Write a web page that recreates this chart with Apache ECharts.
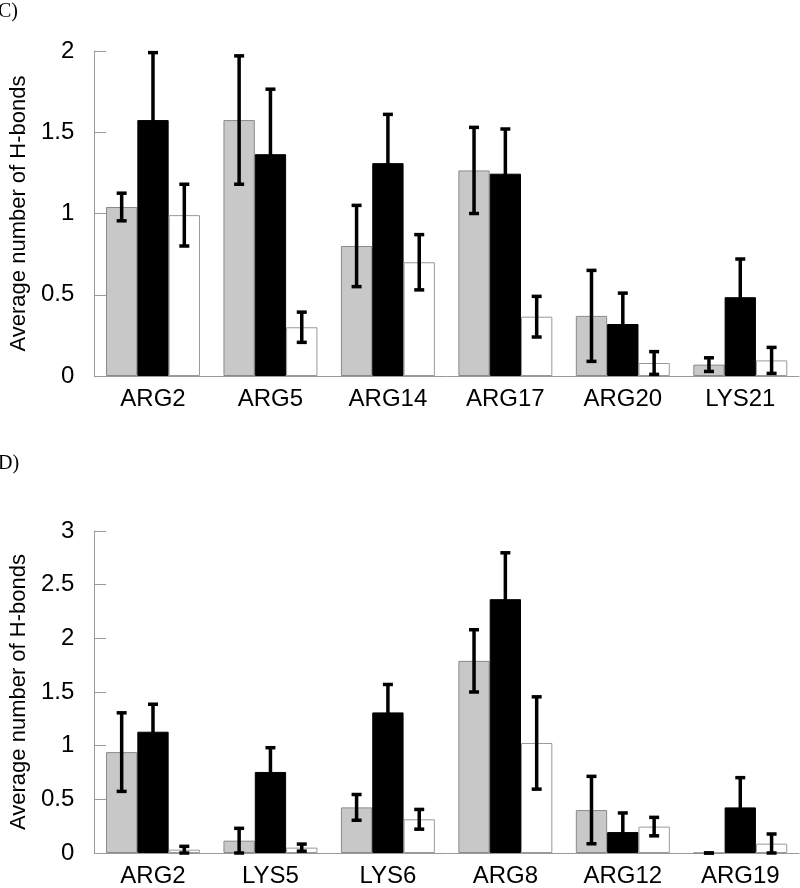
<!DOCTYPE html>
<html>
<head>
<meta charset="utf-8">
<script src="https://cdn.jsdelivr.net/npm/echarts@6/dist/echarts.min.js"></script>
<style>
html,body{margin:0;padding:0;background:#fff;}
#chart{width:800px;height:888px;}
</style>
</head>
<body>
<div id="chart"></div>
<script>
// Panel C
var catsC = ['ARG2','ARG5','ARG14','ARG17','ARG20','LYS21'];
var grayC = [1.04, 1.575, 0.80, 1.265, 0.37, 0.07];
var grayErrC = [0.085, 0.395, 0.25, 0.265, 0.28, 0.042];
var blackC = [1.575, 1.365, 1.31, 1.245, 0.32, 0.485];
var blackErrC = [0.415, 0.40, 0.30, 0.275, 0.19, 0.235];
var whiteC = [0.99, 0.30, 0.70, 0.365, 0.08, 0.096];
var whiteErrC = [0.19, 0.093, 0.17, 0.125, 0.07, 0.08];
// Panel D
var catsD = ['ARG2','LYS5','LYS6','ARG8','ARG12','ARG19'];
var grayD = [0.94, 0.115, 0.425, 1.79, 0.40, 0];
var grayErrD = [0.366, 0.115, 0.12, 0.29, 0.314, 0];
var blackD = [1.13, 0.755, 1.31, 2.365, 0.195, 0.425];
var blackErrD = [0.256, 0.226, 0.26, 0.432, 0.178, 0.277];
var whiteD = [0.031, 0.05, 0.314, 1.025, 0.246, 0.087];
var whiteErrD = [0.031, 0.033, 0.092, 0.43, 0.086, 0.09];

var yNameTxt = 'Average number of H-bonds';
var FONT = 'Liberation Sans, Arial, sans-serif';
var AXC = '#9a9a9a';

function makeErr(vals, errs, k, gi) {
  var data = vals.map(function (v, i) { return [i, v, errs[i]]; });
  return {
    type: 'custom',
    xAxisIndex: gi, yAxisIndex: gi,
    z: 10,
    silent: true,
    data: data,
    renderItem: function (params, api) {
      var i = api.value(0), v = api.value(1), e = api.value(2);
      var center = api.coord([i, 0]);
      var bw = api.size([1, 0])[0] * 0.8 / 3;
      var x = center[0] + (k - 1) * bw;
      var yt = api.coord([i, v + e])[1];
      var yb = api.coord([i, Math.max(v - e, 0)])[1];
      var hw = 5;
      var st = { stroke: '#000', lineWidth: 3.5 };
      return {
        type: 'group',
        children: [
          { type: 'line', shape: { x1: x, y1: yt, x2: x, y2: yb }, style: st },
          { type: 'line', shape: { x1: x - hw, y1: yt, x2: x + hw, y2: yt }, style: st },
          { type: 'line', shape: { x1: x - hw, y1: yb, x2: x + hw, y2: yb }, style: st }
        ]
      };
    }
  };
}

function bars(vals, color, border, gi) {
  return {
    type: 'bar', xAxisIndex: gi, yAxisIndex: gi,
    data: vals, barGap: '0%', barCategoryGap: '20%',
    itemStyle: { color: color, borderColor: border, borderWidth: 1 },
    silent: true
  };
}

function xAx(cats, gi) {
  return {
    type: 'category', gridIndex: gi, data: cats,
    axisLine: { lineStyle: { color: AXC, width: 1 } },
    axisTick: { inside: true, length: 11, lineStyle: { color: AXC } },
    axisLabel: { color: '#000', fontFamily: FONT, fontSize: 24, margin: 11 }
  };
}
function yAx(max, gi) {
  return {
    type: 'value', gridIndex: gi, min: 0, max: max, interval: 0.5,
    name: yNameTxt, nameLocation: 'middle', nameRotate: 90, nameGap: 54,
    nameTextStyle: { color: '#000', fontFamily: FONT, fontSize: 22 },
    splitLine: { show: false },
    axisLine: { show: true, lineStyle: { color: AXC, width: 1 } },
    axisTick: { show: true, inside: true, length: 12, lineStyle: { color: AXC } },
    axisLabel: { color: '#000', fontFamily: FONT, fontSize: 24, margin: 20 }
  };
}

var chart = echarts.init(document.getElementById('chart'), null, { renderer: 'canvas' });
chart.setOption({
  animation: false,
  backgroundColor: '#fff',
  graphic: [
    { type: 'text', left: -2, top: 2, style: { text: 'C)', font: '20px "Liberation Serif", serif', fill: '#000' } },
    { type: 'text', left: -2, top: 454, style: { text: 'D)', font: '20px "Liberation Serif", serif', fill: '#000' } }
  ],
  grid: [
    { left: 94, right: 1, top: 51, height: 325 },
    { left: 94, right: 1, top: 531, height: 325 }
  ],
  xAxis: [xAx(catsC, 0), xAx(catsD, 1)],
  yAxis: [yAx(2, 0), yAx(3, 1)],
  series: [
    bars(grayC, '#c8c8c8', '#8a8a8a', 0),
    bars(blackC, '#000', '#000', 0),
    bars(whiteC, '#fff', '#999', 0),
    makeErr(grayC, grayErrC, 0, 0),
    makeErr(blackC, blackErrC, 1, 0),
    makeErr(whiteC, whiteErrC, 2, 0),
    bars(grayD, '#c8c8c8', '#8a8a8a', 1),
    bars(blackD, '#000', '#000', 1),
    bars(whiteD, '#fff', '#999', 1),
    makeErr(grayD, grayErrD, 0, 1),
    makeErr(blackD, blackErrD, 1, 1),
    makeErr(whiteD, whiteErrD, 2, 1)
  ]
});
</script>
</body>
</html>
